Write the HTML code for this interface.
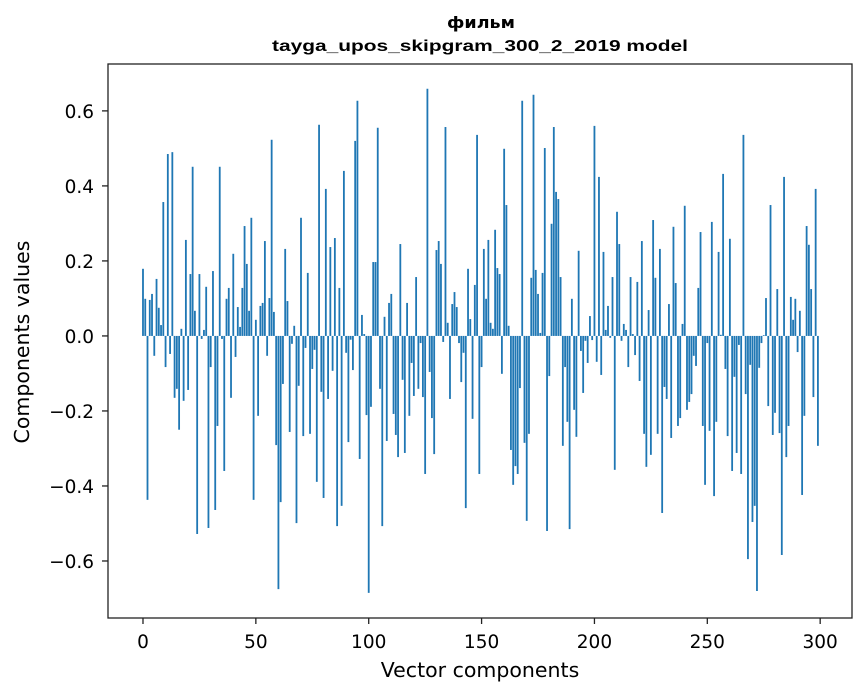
<!DOCTYPE html>
<html><head><meta charset="utf-8"><style>
body{margin:0;background:#fff;}
svg{display:block;font-family:"DejaVu Sans","Liberation Sans",sans-serif;}
</style></head><body>
<svg id="chart" width="867" height="696">
<text x="481" y="28" text-anchor="middle" font-size="16" font-weight="bold" textLength="68" lengthAdjust="spacingAndGlyphs">фильм</text>
<text x="480" y="51" text-anchor="middle" font-size="16" font-weight="bold" font-family="Liberation Sans, sans-serif" textLength="416" lengthAdjust="spacingAndGlyphs">tayga_upos_skipgram_300_2_2019 model</text>
<g id="bars"></g>
<g id="axes"></g>
<rect x="108" y="64" width="744" height="554" fill="none" stroke="#222" stroke-width="1.3"/>
<text x="480" y="677" text-anchor="middle" font-size="20.5">Vector components</text>
<text transform="translate(29,342) rotate(-90)" text-anchor="middle" font-size="20.5">Components values</text>
</svg>
<script>
const values = [0.179,0.099,-0.437,0.096,0.112,-0.053,0.152,0.075,0.029,0.357,
-0.083,0.485,-0.048,0.49,-0.165,-0.141,-0.25,0.019,-0.173,0.256,
-0.144,0.165,0.451,0.067,-0.528,0.165,-0.008,0.016,0.131,-0.512,
-0.083,0.173,-0.464,-0.24,0.451,-0.008,-0.36,0.099,0.128,-0.165,
0.219,-0.056,0.077,0.024,0.128,0.293,0.192,0.067,0.315,-0.437,
0.043,-0.213,0.08,0.088,0.253,-0.053,0.101,0.523,0.064,-0.291,
-0.675,-0.443,-0.128,0.232,0.093,-0.256,-0.021,0.027,-0.499,-0.133,
0.315,-0.267,-0.032,0.168,-0.261,-0.088,-0.037,-0.389,0.563,-0.149,
-0.432,0.392,-0.168,0.237,-0.093,0.261,-0.507,0.128,-0.453,0.44,
-0.045,-0.283,-0.01,-0.091,0.52,0.627,-0.328,0.056,0.005,-0.211,
-0.685,-0.189,0.197,0.197,0.555,-0.141,-0.507,0.051,-0.28,0.088,
0.112,-0.208,-0.264,-0.323,0.245,-0.117,-0.312,0.088,-0.213,-0.072,
-0.16,0.157,-0.141,-0.019,-0.163,-0.368,0.659,-0.096,-0.219,-0.315,
0.229,0.253,0.192,-0.016,0.557,0.035,-0.168,0.085,0.117,0.077,
-0.019,-0.123,-0.045,-0.459,0.179,0.045,-0.221,0.136,0.536,-0.368,
-0.083,0.232,0.099,0.256,0.035,0.019,0.283,0.181,0.165,-0.101,
0.499,0.349,0.027,-0.304,-0.397,-0.347,-0.368,-0.139,0.627,-0.285,
-0.493,-0.261,0.155,0.643,0.176,0.112,0.008,0.168,0.501,-0.52,
-0.107,0.299,0.557,0.384,0.365,0.157,-0.293,-0.083,-0.229,-0.515,
0.099,-0.197,-0.269,0.227,-0.04,-0.152,-0.013,-0.072,0.053,-0.011,
0.56,-0.069,0.424,-0.104,0.224,0.016,0.08,-0.005,0.157,-0.357,
0.331,0.245,-0.013,0.032,0.016,-0.083,0.157,0.005,-0.051,0.144,
-0.12,0.253,-0.261,-0.349,0.069,-0.317,0.309,0.155,-0.261,0.232,
-0.472,-0.136,-0.168,0.085,-0.272,0.291,0.141,-0.24,-0.219,0.032,
0.347,-0.197,-0.176,-0.155,-0.053,-0.08,0.128,0.277,-0.24,-0.397,
-0.019,-0.253,0.304,-0.427,-0.229,0.224,0.003,0.432,-0.088,-0.267,
0.259,-0.36,-0.109,-0.312,-0.024,-0.368,0.536,-0.155,-0.595,-0.077,
-0.496,-0.453,-0.68,-0.085,-0.019,0.002,0.101,-0.187,0.349,-0.264,
-0.205,0.125,-0.259,-0.584,0.424,-0.323,-0.24,0.104,0.043,0.099,
-0.043,0.067,-0.424,-0.213,0.293,0.243,0.125,-0.163,0.392,-0.293];
const xTicks = [0,50,100,150,200,250,300];
const yTicks = [-0.6,-0.4,-0.2,0.0,0.2,0.4,0.6];
const yTickLabels = ["\u22120.6","\u22120.4","\u22120.2","0.0","0.2","0.4","0.6"];

const NS="http://www.w3.org/2000/svg";
const L=108,R=852,T=64,B=618;
const xMin=-15.5,xMax=314.1,yMin=-0.752,yMax=0.725;
function xs(v){return L+(v-xMin)/(xMax-xMin)*(R-L);}
function ys(v){return B-(v-yMin)/(yMax-yMin)*(B-T);}
const bars=document.getElementById('bars');
const bw=xs(0.8)-xs(0);
values.forEach((v,i)=>{
  const r=document.createElementNS(NS,'rect');
  const y0=ys(0),y1=ys(v);
  r.setAttribute('x',xs(i)-bw/2);
  r.setAttribute('y',Math.min(y0,y1));
  r.setAttribute('width',bw);
  r.setAttribute('height',Math.max(Math.abs(y1-y0),0.3));
  r.setAttribute('fill','#1f77b4');
  
  
  bars.appendChild(r);
});
const axes=document.getElementById('axes');
xTicks.forEach(t=>{
  const x=xs(t);
  const l=document.createElementNS(NS,'line');
  l.setAttribute('x1',x);l.setAttribute('x2',x);l.setAttribute('y1',B);l.setAttribute('y2',B+6);
  l.setAttribute('stroke','#222');l.setAttribute('stroke-width','1.3');
  
  
  axes.appendChild(l);
  const tx=document.createElementNS(NS,'text');
  tx.setAttribute('x',x);tx.setAttribute('y',B+30);tx.setAttribute('text-anchor','middle');tx.setAttribute('font-size','18.5');
  tx.textContent=t;
  
  
  axes.appendChild(tx);
});
yTicks.forEach((t,i)=>{
  const y=ys(t);
  const l=document.createElementNS(NS,'line');
  l.setAttribute('x1',L-6);l.setAttribute('x2',L);l.setAttribute('y1',y);l.setAttribute('y2',y);
  l.setAttribute('stroke','#222');l.setAttribute('stroke-width','1.3');
  
  
  axes.appendChild(l);
  const tx=document.createElementNS(NS,'text');
  tx.setAttribute('x',L-14);tx.setAttribute('y',y+7);tx.setAttribute('text-anchor','end');tx.setAttribute('font-size','18.5');
  tx.textContent=yTickLabels[i];
  
  
  axes.appendChild(tx);
});
</script>
</body></html>
